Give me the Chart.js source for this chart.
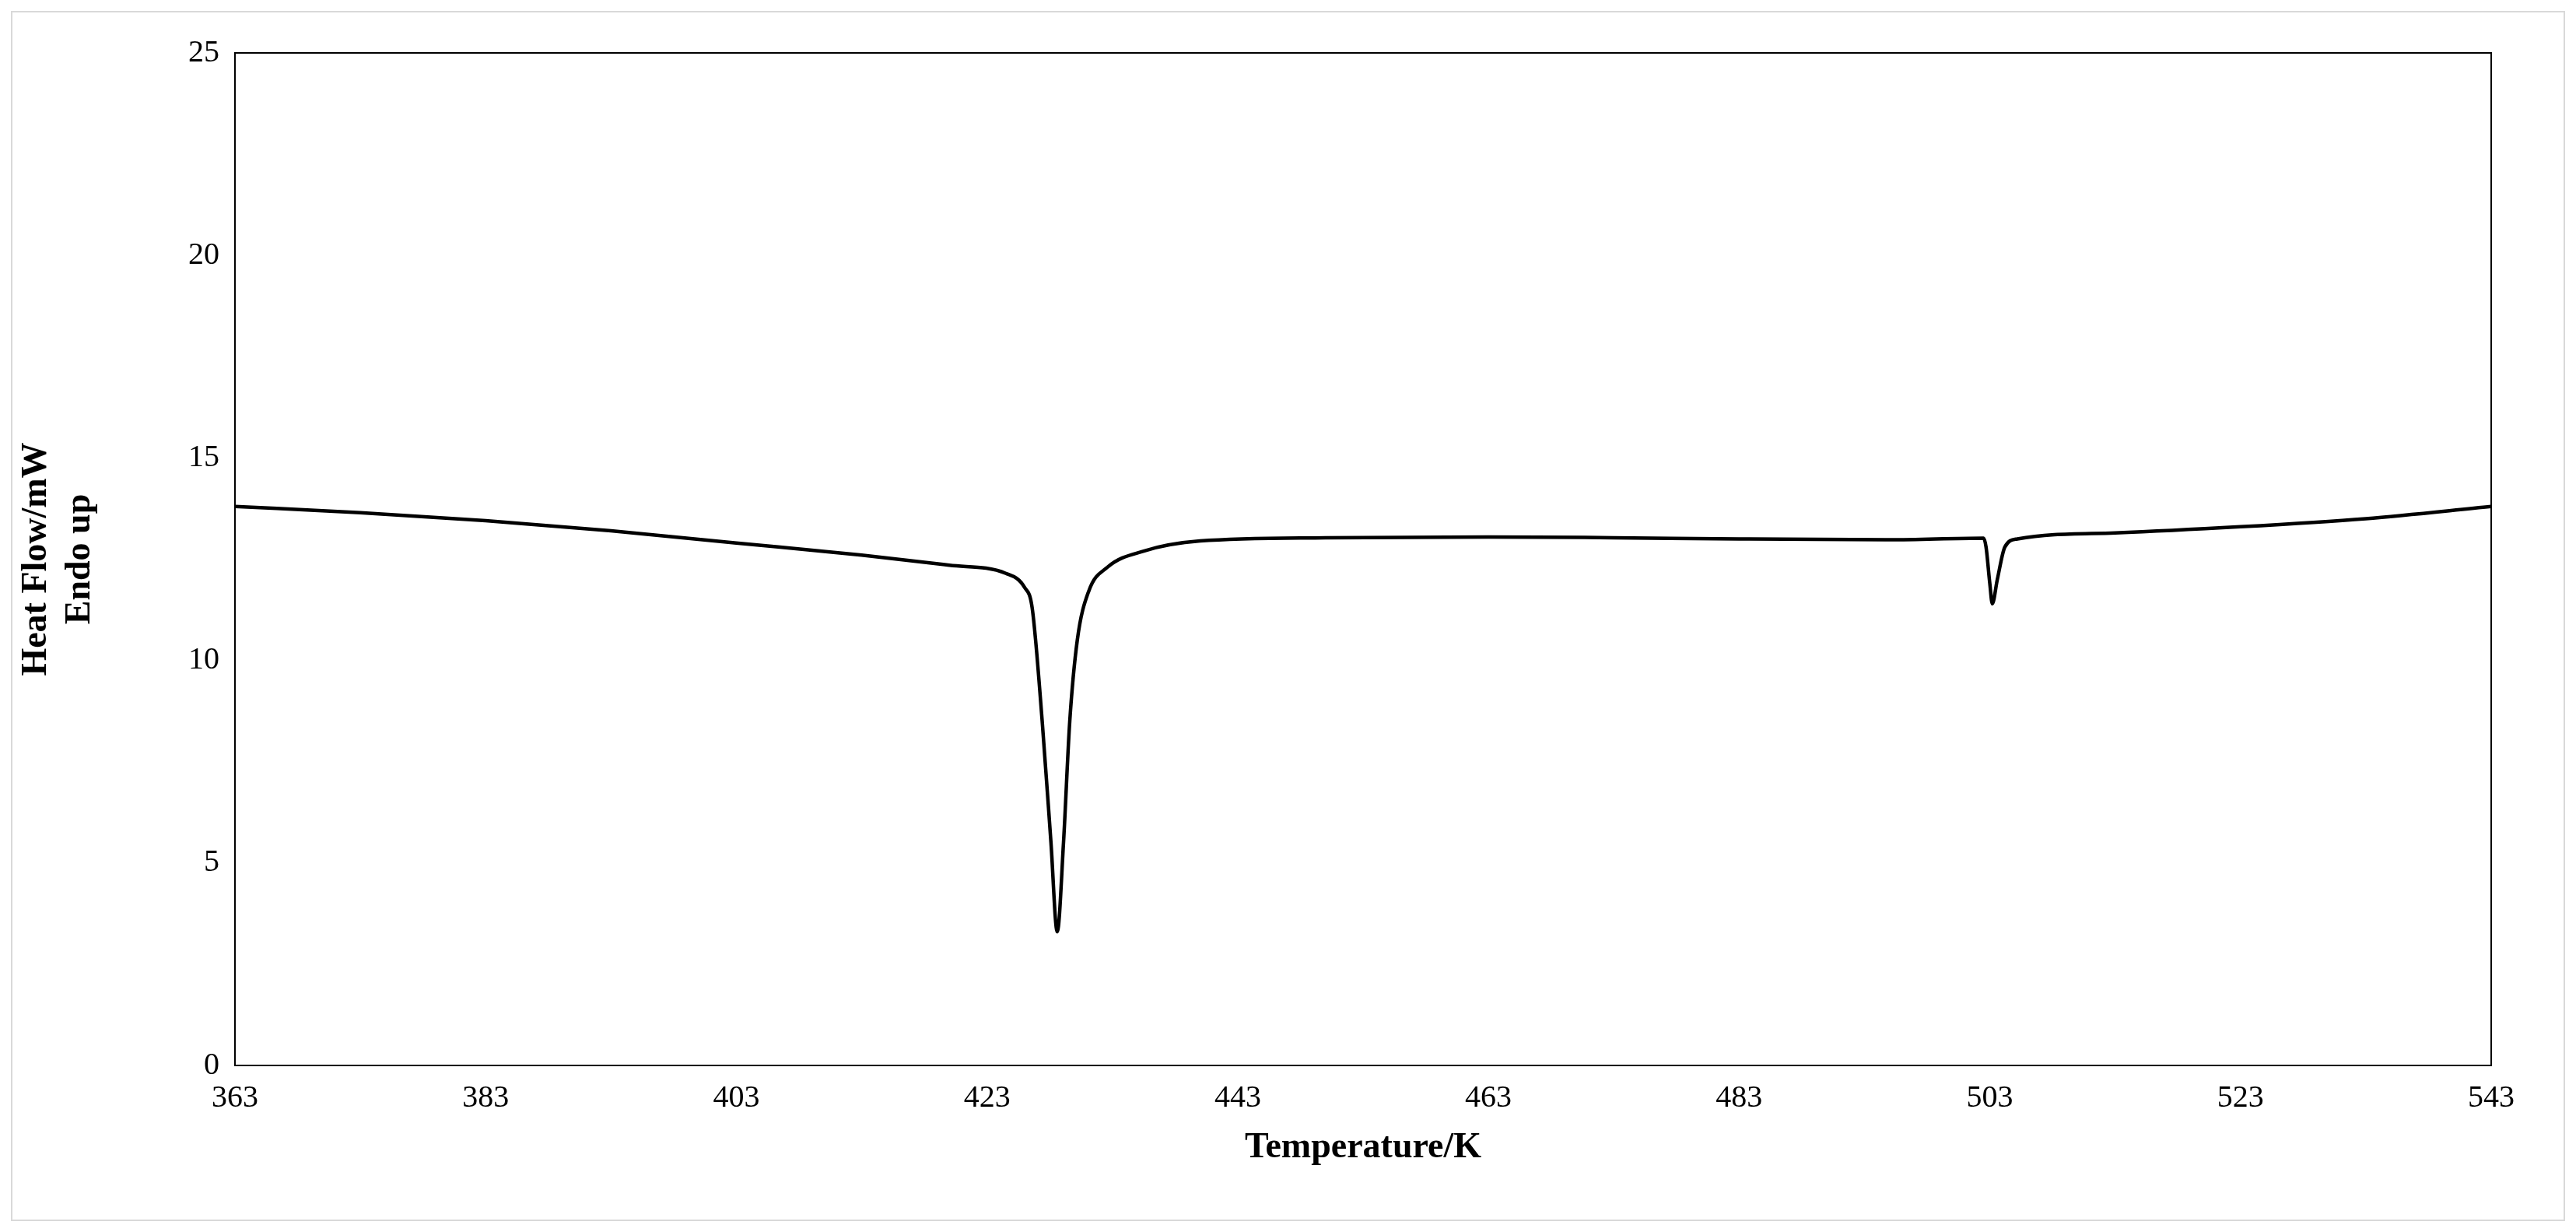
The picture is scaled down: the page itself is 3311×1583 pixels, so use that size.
<!DOCTYPE html>
<html>
<head>
<meta charset="utf-8">
<script src="https://cdn.jsdelivr.net/npm/chart.js@4"></script>
<style>
  html, body { margin: 0; padding: 0; background: #fff; }
  #wrap { position: absolute; left: 14px; top: 14px; width: 3283px; height: 1555px; border: 2px solid #d9d9d9; box-sizing: border-box; }
</style>
</head>
<body>
<div id="wrap"><canvas id="chart"></canvas></div>
<script>
// temperature (K) and heat flow (mW)
const temperature = [363, 373, 383, 393, 403, 413, 420, 424.5, 426, 426.6, 427.4, 428.1, 428.6, 429.1, 429.6, 430.2, 431.1, 432.6, 435.5, 440, 450, 463, 473, 483, 495, 502.5, 502.7, 503.0, 503.2, 503.6, 504.2, 505.2, 513, 523, 533, 543];
const heatFlow = [13.8, 13.65, 13.45, 13.2, 12.9, 12.6, 12.35, 12.15, 11.8, 11.3, 8.5, 5.5, 3.3, 5.5, 8.5, 10.5, 11.7, 12.3, 12.7, 12.95, 13.03, 13.05, 13.03, 13.0, 12.98, 13.02, 12.8, 11.9, 11.4, 12.0, 12.8, 13.0, 13.15, 13.3, 13.5, 13.8];
const xTicks = [363, 383, 403, 423, 443, 463, 483, 503, 523, 543];
const yTicks = [0, 5, 10, 15, 20, 25];

const points = temperature.map((t, i) => ({ x: t, y: heatFlow[i] }));
const font = "'Liberation Serif', 'DejaVu Serif', serif";

const ctx = document.getElementById("chart").getContext("2d");
new Chart(ctx, {
    type: "line",
    data: {
        datasets: [{
            data: points,
            borderColor: "#000",
            borderWidth: 4.5,
            pointRadius: 0,
            cubicInterpolationMode: "monotone"
        }]
    },
    options: {
        responsive: true,
        maintainAspectRatio: false,
        animation: false,
        layout: { padding: { top: 52, right: 93, left: 0, bottom: 60 } },
        plugins: { legend: { display: false }, tooltip: { enabled: false } },
        scales: {
            x: {
                type: "linear",
                min: 363, max: 543,
                afterBuildTicks: s => { s.ticks = xTicks.map(v => ({ value: v })); },
                afterFit: s => { s.height = 138; },
                grid: { display: false, drawTicks: true, tickLength: 10 },
                border: { color: "#000", width: 2 },
                ticks: { color: "#000", font: { family: font, size: 40 }, padding: 8 },
                title: { display: true, text: "Temperature/K", color: "#000", font: { family: font, size: 46, weight: "bold" }, padding: { top: 4 } }
            },
            y: {
                min: 0, max: 25,
                afterBuildTicks: s => { s.ticks = yTicks.map(v => ({ value: v })); },
                afterFit: s => { s.width = 286; },
                grid: { display: false, tickLength: 10 },
                border: { color: "#000", width: 2 },
                ticks: { color: "#000", font: { family: font, size: 40 }, padding: 10 },
                title: { display: true, text: ["Heat Flow/mW", "Endo up"], color: "#000", font: { family: font, size: 46, weight: "bold" }, padding: { bottom: 20 } }
            }
        }
    },
    plugins: [{
        id: "frame",
        afterDraw(chart) {
            const a = chart.chartArea, c = chart.ctx;
            c.save();
            c.strokeStyle = "#000";
            c.lineWidth = 2;
            c.strokeRect(a.left, a.top, a.right - a.left, a.bottom - a.top);
            c.restore();
        }
    }]
});
</script>
</body>
</html>
